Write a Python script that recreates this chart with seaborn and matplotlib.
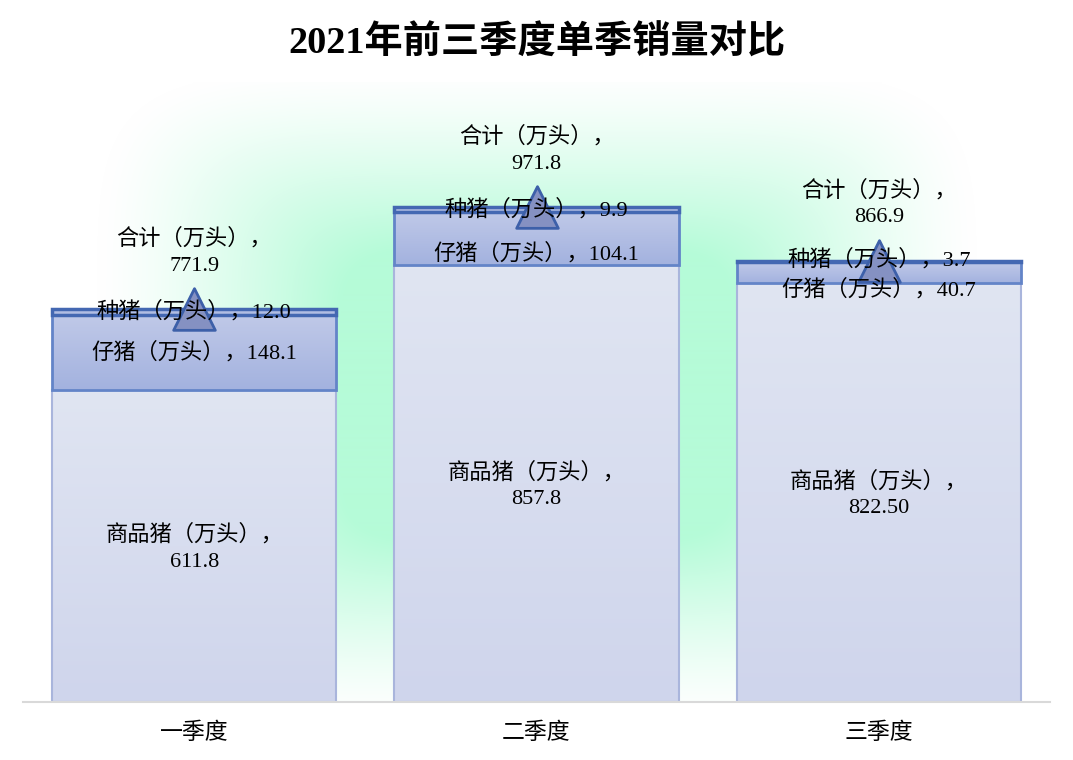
import numpy as np
import pandas as pd
import matplotlib
matplotlib.use('Agg')
import matplotlib.pyplot as plt
import matplotlib.colors as mcolors
import seaborn as sns

# data
quarters = ['一季度', '二季度', '三季度']
commodity = [611.8, 857.8, 822.50]
piglet = [148.1, 104.1, 40.7]
breeding = [12.0, 9.9, 3.7]
totals = [771.9, 971.8, 866.9]
commodity_txt = ['611.8', '857.8', '822.50']
piglet_txt = ['148.1', '104.1', '40.7']
breeding_txt = ['12.0', '9.9', '3.7']
totals_txt = ['771.9', '971.8', '866.9']

title = '2021年前三季度单季销量对比'
fonts = ['Liberation Serif', 'Noto Sans CJK SC', 'DejaVu Sans']

sns.set_theme(style='white')
plt.rcParams['font.family'] = fonts
plt.rcParams['text.color'] = 'black'
plt.rcParams['xtick.color'] = 'black'

W, H = 1073, 760
fig = plt.figure(figsize=(W / 100, H / 100), dpi=100)
fig.patch.set_facecolor('white')
ax_l, ax_r, ax_t, ax_b = 23, 1050, 91, 702
ax = fig.add_axes([ax_l / W, 1 - ax_b / H, (ax_r - ax_l) / W, (ax_b - ax_t) / H])
ymax = 1200

# green glow behind the plot area (soft rectangular path gradient)
xx, yy = np.meshgrid(np.arange(ax_l, ax_r), np.arange(ax_t - 8, ax_b))
t = ((np.abs(xx - 537) / 440) ** 6 + (np.abs(yy - 395) / 325) ** 6) ** (1 / 6)
k = np.clip((1 - t) / 0.55, 0, 1) ** 1.3
green = np.array(mcolors.to_rgb('#b5fbd8'))
glow = np.ones(k.shape + (3,)) * (1 - k[..., None]) + green * k[..., None]
ax.imshow(glow, extent=(-0.5, 2.5, 0, ymax + 8 / 0.509), aspect='auto',
          origin='upper', zorder=0, clip_on=False)


def gradient_bars(container, top, bottom, edge, lw):
    c1 = np.array(mcolors.to_rgb(top))
    c2 = np.array(mcolors.to_rgb(bottom))
    g = np.linspace(0, 1, 100)[:, None]
    img = (c1 * (1 - g) + c2 * g)[:, None, :]
    for p in container.patches:
        x0, y0, w, h = p.get_x(), p.get_y(), p.get_width(), p.get_height()
        im = ax.imshow(img, extent=(x0, x0 + w, y0, y0 + h), aspect='auto',
                       origin='upper', zorder=1)
        im.set_clip_path(p)
        p.set_facecolor('none')
        p.set_edgecolor(edge)
        p.set_linewidth(lw)
        p.set_zorder(2)


df = pd.DataFrame({'quarter': quarters, 'commodity': commodity,
                   'piglet': piglet, 'breeding': breeding, 'total': totals})

sns.barplot(data=df, x='quarter', y='commodity', width=0.83, color='#d8ddef',
            saturation=1, ax=ax)
gradient_bars(ax.containers[-1], '#e0e5f2', '#cfd5ec', '#a9b5dc', 1.5)

sns.barplot(data=df, x='quarter', y='piglet', bottom=df['commodity'], width=0.83,
            color='#b0bde3', saturation=1, ax=ax)
gradient_bars(ax.containers[-1], '#c0c9e8', '#a3b2df', '#6384c8', 2)

sns.barplot(data=df, x='quarter', y='breeding', bottom=df['commodity'] + df['piglet'],
            width=0.83, color='#b7c2e5', saturation=1, ax=ax)
gradient_bars(ax.containers[-1], '#b9c3e6', '#aebbe2', '#4468b2', 2.5)

sns.scatterplot(data=df, x='quarter', y='total', marker='^', s=900, color='#8591c2',
                edgecolor='#3d60a9', linewidth=2, zorder=5, ax=ax, legend=False)

fs = 16
lab = dict(textcoords='offset points', ha='center', va='center', fontsize=fs,
           family=fonts, color='black', zorder=6, linespacing=1.5)
piglet_shift = [0, -11, -12]
breeding_shift = [0, 0, 1.5]
for i in range(3):
    ax.annotate('商品猪（万头），\n' + commodity_txt[i], xy=(i, commodity[i] / 2),
                xytext=(0, -1.5), **lab)
    ax.annotate('仔猪（万头），' + piglet_txt[i], xy=(i, commodity[i] + piglet[i] / 2),
                xytext=(0, piglet_shift[i]), **lab)
    ax.annotate('种猪（万头），' + breeding_txt[i],
                xy=(i, commodity[i] + piglet[i] + breeding[i] / 2),
                xytext=(0, breeding_shift[i]), **lab)
    ax.annotate('合计（万头），\n' + totals_txt[i], xy=(i, totals[i]),
                xytext=(0, 41), **lab)

ax.set_xlim(-0.5, 2.5)
ax.set_ylim(0, ymax)
ax.set_xlabel('')
ax.set_ylabel('')
ax.set_yticks([])
for s in ['top', 'left', 'right']:
    ax.spines[s].set_visible(False)
ax.spines['bottom'].set_color('#d9d9d9')
ax.spines['bottom'].set_linewidth(1.5)
ax.spines['bottom'].set_zorder(3)
ax.tick_params(axis='x', length=0, pad=15, labelsize=16.5, labelcolor='black')
for tl in ax.get_xticklabels():
    tl.set_family(fonts)

fig.text(0.5, 1 - 43 / H, title, ha='center', va='center', fontsize=27.5,
         fontweight='bold', family=fonts, color='black')

fig.savefig('out.png', dpi=100)
